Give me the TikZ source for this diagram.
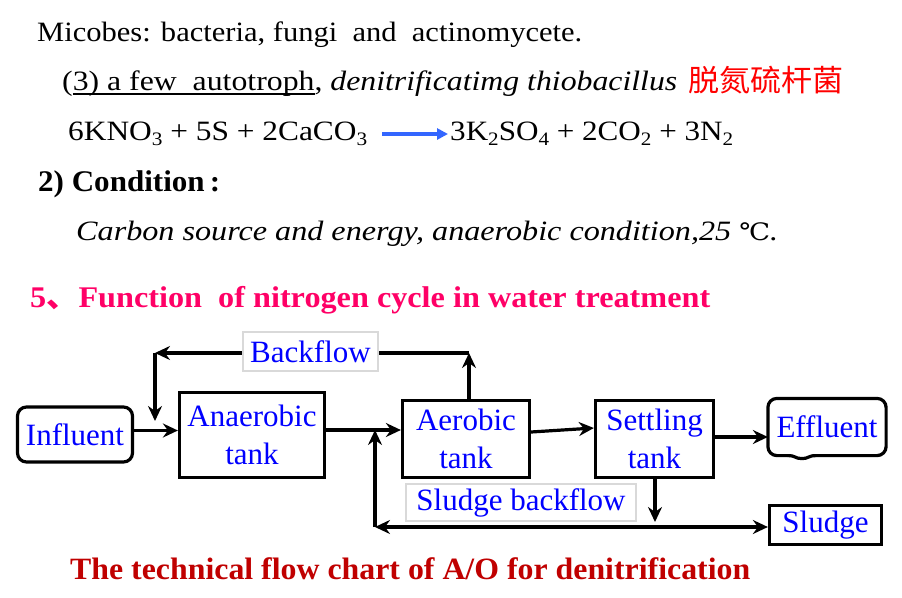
\documentclass[tikz,border=0pt]{standalone}
\usepackage{fontspec}
\usepackage{graphicx}
\setmainfont{Liberation Serif}
\newfontfamily\cjk{Noto Sans CJK SC}
\newfontfamily\dvs{DejaVu Serif}
\usetikzlibrary{arrows.meta,calc}
\newcommand\fitw[2]{\resizebox{#1}{\height}{#2}}
\newcommand\sbs[1]{\raisebox{-0.2em}{\fontsize{19}{20}\selectfont #1}}
\newlength\ulw
\newcommand\thul[1]{\settowidth\ulw{#1}\rlap{\rule[-5pt]{\ulw}{1.8pt}}#1}
\definecolor{mag}{RGB}{255,0,102}
\definecolor{dred}{RGB}{192,0,0}
\definecolor{lgray}{RGB}{217,217,217}
\definecolor{arrblue}{RGB}{51,102,255}
\tikzset{
  txt/.style={anchor=base west, inner sep=0pt},
  bx/.style={draw=black, line width=3.2pt, text=blue, align=center, inner sep=0pt,
    font=\fontsize{31}{38}\selectfont},
  lbl/.style={draw=lgray, line width=2.8pt, fill=white, text=blue, inner sep=0pt,
    font=\fontsize{31}{38}\selectfont},
  arr/.style={line width=3.2pt, -{Stealth[length=15pt,width=14pt,inset=5pt]}},
  arrb/.style={line width=3.2pt, {Stealth[length=15pt,width=14pt,inset=5pt]}-{Stealth[length=15pt,width=14pt,inset=5pt]}}
}
\begin{document}
\begin{tikzpicture}[x=1pt,y=-1pt]
\useasboundingbox (0,0) rectangle (902,597);

% ---- header text ----
\node[txt] (l1) at (37,41) {\fitw{545pt}{\fontsize{28}{32}\selectfont Micobes: bacteria, fungi\ \ and\ \ actinomycete.}};
\node[txt] (l2) at (62,90) {\fitw{615pt}{\fontsize{28}{32}\selectfont (\thul{3) a few\ \ autotroph}, \textit{denitrificatimg thiobacillus}}};
\node[txt, text=red] (l2c) at (688,91) {\fitw{155pt}{\fontsize{30}{32}\selectfont\cjk 脱氮硫杆菌}};
\node[txt] (eqL) at (68,140) {\fitw{299pt}{\fontsize{28}{30}\selectfont 6KNO\sbs{3} + 5S + 2CaCO\sbs{3}}};
\node[txt] (eqR) at (450,140) {\fitw{283pt}{\fontsize{28}{30}\selectfont 3K\sbs{2}SO\sbs{4} + 2CO\sbs{2} + 3N\sbs{2}}};
\coordinate (a1) at (382,134);
\coordinate (a2) at (448,134);
\draw[line width=3.5pt, arrblue, -{Triangle[length=11pt,width=11pt]}] (a1) -- (a2);
\node[txt] (cond) at (38,191) {\fitw{182pt}{\fontsize{30}{32}\selectfont\bfseries 2) Condition\,:}};
\node[txt] (carb) at (76,240) {\fitw{702pt}{\fontsize{28}{30}\selectfont\itshape Carbon source and energy, anaerobic condition,25 {\dvs\upshape\fontsize{24}{30}\selectfont ℃}.}};
\node[txt, text=mag] (ttl) at (30,307) {\fitw{680pt}{\fontsize{30}{32}\selectfont\bfseries 5{\cjk 、}Function\ \ of nitrogen cycle in water treatment}};
\node[txt, text=dred] (cap) at (70,579) {\fitw{680pt}{\fontsize{31}{34}\selectfont\bfseries The technical flow chart of A/O for denitrification}};

% ---- boxes ----
\node[bx, rounded corners=9pt, minimum width=115pt, minimum height=55pt] (inf) at (75,434.5) {Influent};
\node[bx, minimum width=145pt, minimum height=85pt] (ana) at (252,435) {Anaerobic\\tank};
\node[bx, minimum width=127pt, minimum height=77pt] (aer) at (466,439) {Aerobic\\tank};
\node[bx, minimum width=118pt, minimum height=77pt] (set) at (654.5,439) {Settling\\tank};
\node[bx, draw=none, minimum width=115pt, minimum height=54pt] (eff) at (827,427) {Effluent};
\coordinate (w1) at ($(eff.south west)+(20,0)$);
\coordinate (w2) at ($(eff.south west)+(34,3)$);
\coordinate (w3) at ($(eff.south west)+(48,0)$);
\draw[line width=3.2pt, rounded corners=9pt, line cap=round] (w1) -- (eff.south west) -- (eff.north west) -- (eff.north east) -- (eff.south east) -- (w3);
\draw[line width=3.2pt, line cap=round] (w1) .. controls +(8,0) and +(-7,0) .. (w2) .. controls +(7,0) and +(-8,0) .. (w3);
\node[bx, minimum width=112pt, minimum height=39pt] (slu) at (825.5,525) {Sludge};

% ---- connectors ----
\coordinate (bfR) at (469,353);
\coordinate (bfL) at (155,353);
\coordinate (bfD) at (155,421);
\coordinate (slL) at (375,527);
\coordinate (sd) at (655,522);
\coordinate (aaE) at ([yshift=5pt]ana.east);
\coordinate (jn) at (slL |- aaE);

\draw[arr] ([yshift=4pt]inf.east) -- ([yshift=4pt]inf.east -| ana.west);
\draw[arr] (aaE) -- (aaE -| aer.west);
\draw[arr] ([yshift=7pt]aer.east) -- ([yshift=11pt]set.west);
\draw[arr] ([yshift=2pt]set.east) -- ([yshift=2pt]set.east -| eff.west);
\draw[arr] (bfR |- aer.north) -- (bfR);
\draw[arr] (bfR) -- (bfL);
\draw[arr] (bfL) -- (bfD);
\draw[arr] (slL) -- (jn);
\draw[arr] (set.south -| sd) -- (sd);
\draw[arrb] (slL) -- (slL -| slu.west);

% ---- labels ----
\node[lbl, minimum width=135pt, minimum height=39pt] (bfl) at (310.5,351.5) {Backflow};
\node[lbl, minimum width=230pt, minimum height=37pt] (sbf) at (521,502.5) {Sludge backflow};
\end{tikzpicture}
\end{document}
